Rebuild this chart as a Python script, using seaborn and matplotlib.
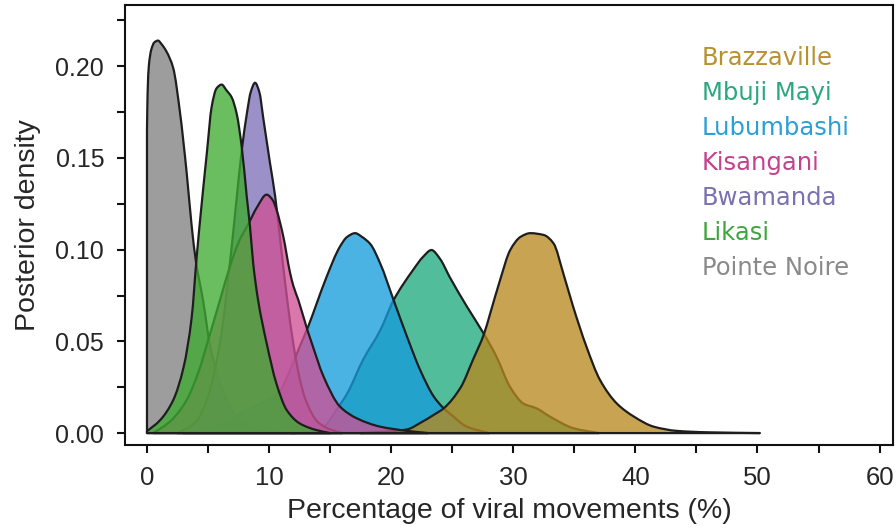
import matplotlib
matplotlib.use("Agg")
import matplotlib.pyplot as plt
import seaborn as sns
import numpy as np
from matplotlib.colors import to_rgba
from matplotlib.ticker import MultipleLocator, FormatStrFormatter
from matplotlib.path import Path
from matplotlib.patches import PathPatch

# ---------------- data ----------------
cities = ["Brazzaville", "Mbuji Mayi", "Lubumbashi", "Kisangani",
          "Bwamanda", "Likasi", "Pointe Noire"]

pointe_noire_x = [0, 0.05, 0.15, 0.35, 0.6, 0.9, 1.2, 1.6, 2.15, 2.7, 3.25,
                  3.66, 4.0, 4.6, 5.16, 6.0, 7.0, 8.0, 9.3, 10.5, 12.0]
pointe_noire_y = [0.165, 0.185, 0.200, 0.209, 0.213, 0.214, 0.212, 0.208,
                  0.199, 0.175, 0.142, 0.113, 0.094, 0.072, 0.048, 0.027,
                  0.012, 0.005, 0.0016, 0.0005, 0]

likasi_x = [0, 1.07, 2.15, 3.0, 3.66, 4.07, 4.48, 4.9, 5.3, 5.7, 6.12, 6.5,
            6.94, 7.35, 7.76, 8.17, 8.44, 8.7, 9.1, 9.8, 10.6, 11.45, 12.5,
            13.9, 15.0]
likasi_y = [0.001, 0.007, 0.018, 0.036, 0.063, 0.096, 0.125, 0.1525, 0.178,
            0.188, 0.190, 0.187, 0.183, 0.174, 0.156, 0.129, 0.1125, 0.0925,
            0.0725, 0.049, 0.027, 0.0125, 0.0053, 0.0016, 0]

bwamanda_x = [2.5, 4.0, 5.0, 6.0, 6.8, 7.3, 7.76, 8.2, 8.5, 8.85, 9.2, 9.54,
              10.08, 10.5, 11.0, 11.5, 12.0, 12.5, 13.0, 14.0, 15.0, 16.0]
bwamanda_y = [0, 0.006, 0.020, 0.050, 0.093, 0.125, 0.154, 0.175, 0.186,
              0.191, 0.186, 0.171, 0.147, 0.129, 0.100, 0.072, 0.048, 0.030,
              0.018, 0.006, 0.002, 0]

kisangani_x = [0.5, 1.34, 2.0, 3.25, 4.2, 5.16, 6.0, 6.8, 7.5, 8.3, 9.0, 9.8,
               10.3, 10.6, 11.17, 11.7, 12.0, 12.4, 13.1, 13.5, 14.45, 15.8,
               17.2, 19.1, 21.3, 23.0]
kisangani_y = [0, 0.0035, 0.007, 0.018, 0.033, 0.054, 0.073, 0.091, 0.104,
               0.114, 0.123, 0.130, 0.127, 0.122, 0.107, 0.088, 0.080, 0.0725,
               0.057, 0.049, 0.031, 0.0145, 0.008, 0.0035, 0.0012, 0]

lubumbashi_x = [3.0, 4.6, 6.0, 7.7, 9.3, 10.9, 11.7, 12.5, 13.2, 13.9, 14.7,
                15.8, 16.4, 17.05, 17.6, 18.3, 19.1, 20.2, 21.3, 22.4, 23.5,
                24.3, 24.8, 26.2, 28.0]
lubumbashi_y = [0, 0.0016, 0.005, 0.011, 0.016, 0.023, 0.034, 0.047, 0.058,
                0.0707, 0.085, 0.1016, 0.107, 0.109, 0.107, 0.103, 0.0925,
                0.0725, 0.0525, 0.034, 0.0198, 0.0135, 0.0107, 0.0035, 0]

mbuji_mayi_x = [12.0, 13.2, 14.5, 15.5, 16.4, 17.7, 19.1, 20.2, 21.8, 22.6,
                23.3, 24.0, 24.8, 26.2, 27.6, 28.6, 29.75, 30.85, 31.9, 33.0,
                34.95, 37.0]
mbuji_mayi_y = [0, 0.0005, 0.0035, 0.0125, 0.0216, 0.040, 0.056, 0.0725,
                0.089, 0.096, 0.0998, 0.095, 0.085, 0.069, 0.054, 0.042, 0.025,
                0.016, 0.0135, 0.009, 0.0026, 0]

brazzaville_x = [17.5, 20.0, 21.3, 22.5, 23.5, 24.3, 25.7, 26.7, 27.6, 28.1,
                 28.9, 29.75, 30.6, 31.4, 32.5, 33.3, 34.1, 34.9, 36.0, 37.1,
                 38.5, 39.9, 41.5, 43.4, 46.0, 50.2]
brazzaville_y = [0, 0.001, 0.002, 0.006, 0.010, 0.0135, 0.025, 0.040, 0.054,
                 0.065, 0.083, 0.0998, 0.107, 0.109, 0.108, 0.1034, 0.087,
                 0.069, 0.047, 0.029, 0.016, 0.0089, 0.0035, 0.0012, 0.0004, 0]

curves = {
    "Brazzaville": (brazzaville_x, brazzaville_y),
    "Mbuji Mayi": (mbuji_mayi_x, mbuji_mayi_y),
    "Lubumbashi": (lubumbashi_x, lubumbashi_y),
    "Kisangani": (kisangani_x, kisangani_y),
    "Bwamanda": (bwamanda_x, bwamanda_y),
    "Likasi": (likasi_x, likasi_y),
    "Pointe Noire": (pointe_noire_x, pointe_noire_y),
}

# ---------------- style ----------------
fill_colors = {
    "Brazzaville": "#B8881C",
    "Mbuji Mayi": "#1CAA7D",
    "Lubumbashi": "#159BDC",
    "Kisangani": "#CF5094",
    "Bwamanda": "#7D70B8",
    "Likasi": "#3DAB2F",
    "Pointe Noire": "#808080",
}
text_colors = {
    "Brazzaville": "#B8912F",
    "Mbuji Mayi": "#2AA87E",
    "Lubumbashi": "#2A9FD8",
    "Kisangani": "#C4418E",
    "Bwamanda": "#7B70B0",
    "Likasi": "#3FA63F",
    "Pointe Noire": "#8A8A8A",
}
draw_order = ["Pointe Noire", "Mbuji Mayi", "Lubumbashi", "Brazzaville",
              "Bwamanda", "Kisangani", "Likasi"]
FILL_ALPHA = 0.77


def density_path(xs, ys):
    """Closed path through the read points, drawn with monotone cubic
    (Bezier) segments so the outline is smooth like the original."""
    xs = np.asarray(xs, float)
    ys = np.asarray(ys, float)
    n = len(xs)
    h = np.diff(xs)
    d = np.diff(ys) / h
    m = np.zeros(n)
    m[0], m[-1] = d[0], d[-1]
    for k in range(1, n - 1):
        if d[k - 1] * d[k] <= 0:
            m[k] = 0.0
        else:
            w1 = 2 * h[k] + h[k - 1]
            w2 = h[k] + 2 * h[k - 1]
            m[k] = (w1 + w2) / (w1 / d[k - 1] + w2 / d[k])
    verts = [(xs[0], 0.0), (xs[0], ys[0])]
    codes = [Path.MOVETO, Path.LINETO]
    for k in range(n - 1):
        verts += [(xs[k] + h[k] / 3, ys[k] + m[k] * h[k] / 3),
                  (xs[k + 1] - h[k] / 3, ys[k + 1] - m[k + 1] * h[k] / 3),
                  (xs[k + 1], ys[k + 1])]
        codes += [Path.CURVE4] * 3
    verts += [(xs[-1], 0.0), (xs[0], 0.0), (xs[0], 0.0)]
    codes += [Path.LINETO, Path.LINETO, Path.CLOSEPOLY]
    return Path(verts, codes)


sns.set_theme(style="ticks")
plt.rcParams["font.family"] = ["Liberation Sans", "DejaVu Sans"]

W, H = 896, 527
fig = plt.figure(figsize=(W / 100, H / 100), dpi=100)
ax = fig.add_axes([125 / W, 1 - 445 / H, (893 - 125) / W, (445 - 5) / H])

for i, name in enumerate(draw_order):
    xs, ys = curves[name]
    patch = PathPatch(density_path(xs, ys),
                      facecolor=to_rgba(fill_colors[name], FILL_ALPHA),
                      edgecolor="#1e1e1e", linewidth=1.6,
                      joinstyle="round", zorder=2 + i)
    ax.add_patch(patch)

ax.set_xlim(-1.8, 61.1)
ax.set_ylim(-0.0065, 0.2334)
ax.xaxis.set_major_locator(MultipleLocator(10))
ax.xaxis.set_minor_locator(MultipleLocator(5))
ax.yaxis.set_major_locator(MultipleLocator(0.05))
ax.yaxis.set_minor_locator(MultipleLocator(0.025))
ax.yaxis.set_major_formatter(FormatStrFormatter("%.2f"))

for s in ax.spines.values():
    s.set_linewidth(1.5)
    s.set_color("#111111")
    s.set_visible(True)
ax.tick_params(which="both", direction="out", length=6, width=1.5,
               color="#111111")
ax.tick_params(axis="x", which="major", labelsize=18.5, pad=9)
ax.tick_params(axis="y", which="major", labelsize=18, pad=9)
ax.set_xlabel("Percentage of viral movements (%)", fontsize=20.5, labelpad=6)
ax.set_ylabel("Posterior density", fontsize=20.5, labelpad=10)
ax.grid(False)

for i, name in enumerate(cities):
    fig.text(702 / W, 1 - (65 + 35 * i) / H, name, color=text_colors[name],
             fontsize=17.5, family=["DejaVu Sans"], va="baseline", ha="left")

fig.savefig("out.png", dpi=100)
